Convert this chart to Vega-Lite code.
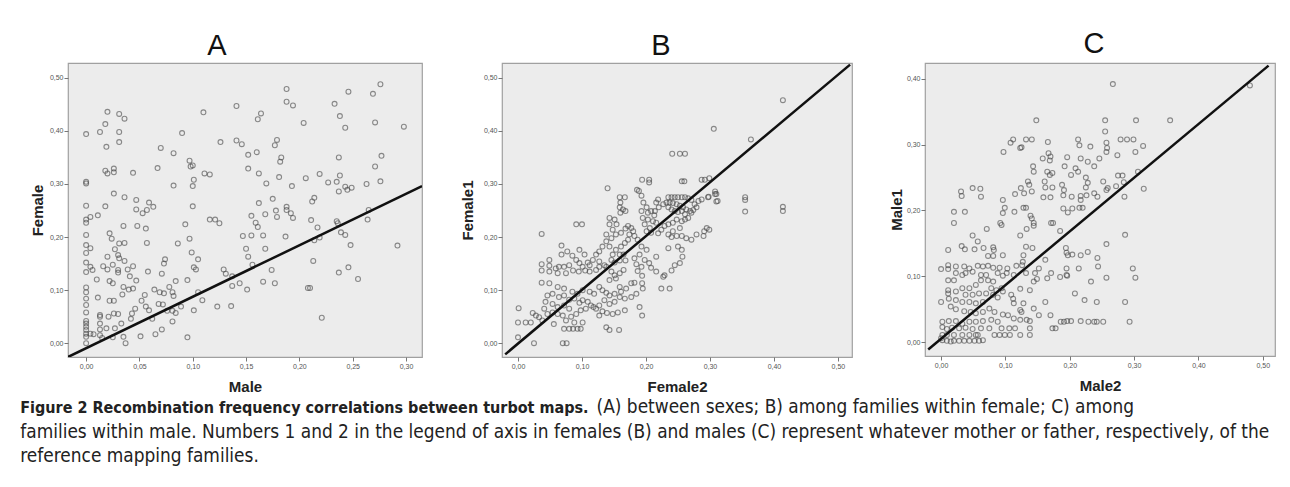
{
"$schema": "https://vega.github.io/schema/vega-lite/v6.json",
"background": "white",
"padding": {"left": 20, "top": 29, "right": 5, "bottom": 0},
"spacing": 36,
"title": {
"text": "Figure 2 Recombination frequency correlations between turbot maps.",
"subtitle": ["\u200b\u2003\u2003\u2003\u2003\u2003\u2003\u2003\u2003\u2003\u2003\u2003\u2003\u2003\u2003\u2003\u2003\u2003\u2003\u2003\u2003\u2003\u2003\u2003\u2003\u2003\u2003\u2003\u2003\u2003\u2003\u2003\u2003\u2003\u2002\u2009\u2009(A) between sexes; B) among families within female; C) among", "families within male. Numbers 1 and 2 in the legend of axis in females (B) and males (C) represent whatever mother or father, respectively, of the", "reference mapping families."],
"orient": "bottom", "anchor": "start", "frame": "bounds", "dx": -10, "offset": 5,
"font": "DejaVu Sans Condensed", "fontSize": 16, "fontWeight": "bold", "color": "#222",
"subtitleFont": "DejaVu Sans Condensed", "subtitleFontSize": 18.9, "subtitleFontWeight": "normal", "subtitleColor": "#222",
"subtitlePadding": -17.5, "subtitleLineHeight": 24.7
},
"datasets": {
"a": [
{"x":0.020,"y":0.436},{"x":0.031,"y":0.432},{"x":0.036,"y":0.423},{"x":0.018,"y":0.413},{"x":0.013,"y":0.398},{"x":0.000,"y":0.394},{"x":0.031,"y":0.398},{"x":0.019,"y":0.370},{"x":0.031,"y":0.379},{"x":0.110,"y":0.435},{"x":0.141,"y":0.447},{"x":0.090,"y":0.396},{"x":0.126,"y":0.379},{"x":0.141,"y":0.382},{"x":0.146,"y":0.375},{"x":0.070,"y":0.368},{"x":0.082,"y":0.358},{"x":0.097,"y":0.344},{"x":0.100,"y":0.335},{"x":0.098,"y":0.333},{"x":0.067,"y":0.330},{"x":0.018,"y":0.325},{"x":0.020,"y":0.320},{"x":0.026,"y":0.329},{"x":0.026,"y":0.322},{"x":0.044,"y":0.321},{"x":0.111,"y":0.320},{"x":0.116,"y":0.318},{"x":0.101,"y":0.308},{"x":0.000,"y":0.304},{"x":0.000,"y":0.301},{"x":0.082,"y":0.297},{"x":0.100,"y":0.296},{"x":0.026,"y":0.282},{"x":0.036,"y":0.275},{"x":0.047,"y":0.270},{"x":0.059,"y":0.265},{"x":0.063,"y":0.257},{"x":0.057,"y":0.251},{"x":0.053,"y":0.245},{"x":0.047,"y":0.252},{"x":0.018,"y":0.258},{"x":0.000,"y":0.259},{"x":0.011,"y":0.241},{"x":0.004,"y":0.238},{"x":0.000,"y":0.233},{"x":0.000,"y":0.227},{"x":0.100,"y":0.258},{"x":0.116,"y":0.233},{"x":0.121,"y":0.233},{"x":0.125,"y":0.226},{"x":0.035,"y":0.221},{"x":0.048,"y":0.221},{"x":0.056,"y":0.216},{"x":0.093,"y":0.224},{"x":0.022,"y":0.207},{"x":0.024,"y":0.197},{"x":0.000,"y":0.204},{"x":0.031,"y":0.188},{"x":0.036,"y":0.189},{"x":0.057,"y":0.189},{"x":0.086,"y":0.188},{"x":0.097,"y":0.197},{"x":0.147,"y":0.202},{"x":0.000,"y":0.185},{"x":0.004,"y":0.179},{"x":0.000,"y":0.170},{"x":0.027,"y":0.177},{"x":0.030,"y":0.166},{"x":0.031,"y":0.160},{"x":0.036,"y":0.155},{"x":0.020,"y":0.163},{"x":0.074,"y":0.158},{"x":0.073,"y":0.150},{"x":0.099,"y":0.171},{"x":0.105,"y":0.158},{"x":0.000,"y":0.152},{"x":0.004,"y":0.144},{"x":0.006,"y":0.138},{"x":0.000,"y":0.134},{"x":0.016,"y":0.145},{"x":0.020,"y":0.139},{"x":0.025,"y":0.148},{"x":0.030,"y":0.138},{"x":0.030,"y":0.133},{"x":0.039,"y":0.139},{"x":0.044,"y":0.145},{"x":0.041,"y":0.126},{"x":0.058,"y":0.135},{"x":0.101,"y":0.143},{"x":0.103,"y":0.139},{"x":0.129,"y":0.139},{"x":0.131,"y":0.131},{"x":0.137,"y":0.126},{"x":0.071,"y":0.131},{"x":0.010,"y":0.120},{"x":0.022,"y":0.117},{"x":0.025,"y":0.113},{"x":0.047,"y":0.118},{"x":0.084,"y":0.117},{"x":0.095,"y":0.119},{"x":0.137,"y":0.108},{"x":0.144,"y":0.113},{"x":0.000,"y":0.105},{"x":0.000,"y":0.096},{"x":0.011,"y":0.086},{"x":0.022,"y":0.080},{"x":0.026,"y":0.080},{"x":0.034,"y":0.092},{"x":0.035,"y":0.106},{"x":0.040,"y":0.101},{"x":0.044,"y":0.103},{"x":0.055,"y":0.091},{"x":0.064,"y":0.101},{"x":0.069,"y":0.096},{"x":0.073,"y":0.094},{"x":0.078,"y":0.106},{"x":0.081,"y":0.096},{"x":0.082,"y":0.089},{"x":0.105,"y":0.096},{"x":0.109,"y":0.081},{"x":0.000,"y":0.084},{"x":0.000,"y":0.072},{"x":0.000,"y":0.058},{"x":0.000,"y":0.042},{"x":0.000,"y":0.037},{"x":0.000,"y":0.031},{"x":0.000,"y":0.025},{"x":0.000,"y":0.018},{"x":0.000,"y":0.012},{"x":0.000,"y":0.000},{"x":0.004,"y":0.018},{"x":0.007,"y":0.017},{"x":0.013,"y":0.053},{"x":0.013,"y":0.050},{"x":0.021,"y":0.050},{"x":0.026,"y":0.056},{"x":0.030,"y":0.055},{"x":0.013,"y":0.037},{"x":0.013,"y":0.026},{"x":0.019,"y":0.028},{"x":0.027,"y":0.028},{"x":0.025,"y":0.011},{"x":0.013,"y":0.015},{"x":0.015,"y":0.010},{"x":0.035,"y":0.012},{"x":0.037,"y":0.000},{"x":0.042,"y":0.046},{"x":0.046,"y":0.065},{"x":0.052,"y":0.080},{"x":0.056,"y":0.069},{"x":0.059,"y":0.062},{"x":0.062,"y":0.046},{"x":0.068,"y":0.074},{"x":0.072,"y":0.073},{"x":0.076,"y":0.061},{"x":0.081,"y":0.061},{"x":0.084,"y":0.057},{"x":0.081,"y":0.041},{"x":0.089,"y":0.069},{"x":0.101,"y":0.062},{"x":0.123,"y":0.069},{"x":0.136,"y":0.070},{"x":0.051,"y":0.013},{"x":0.065,"y":0.017},{"x":0.071,"y":0.026},{"x":0.095,"y":0.011},{"x":0.043,"y":0.056},{"x":0.033,"y":0.037},
{"x":0.188,"y":0.479},{"x":0.246,"y":0.474},{"x":0.276,"y":0.488},{"x":0.269,"y":0.470},{"x":0.188,"y":0.455},{"x":0.194,"y":0.448},{"x":0.233,"y":0.451},{"x":0.164,"y":0.433},{"x":0.161,"y":0.422},{"x":0.238,"y":0.428},{"x":0.204,"y":0.415},{"x":0.243,"y":0.406},{"x":0.271,"y":0.416},{"x":0.298,"y":0.408},{"x":0.179,"y":0.383},{"x":0.177,"y":0.373},{"x":0.160,"y":0.360},{"x":0.152,"y":0.355},{"x":0.183,"y":0.350},{"x":0.182,"y":0.342},{"x":0.237,"y":0.350},{"x":0.277,"y":0.353},{"x":0.271,"y":0.333},{"x":0.152,"y":0.329},{"x":0.162,"y":0.320},{"x":0.181,"y":0.313},{"x":0.169,"y":0.301},{"x":0.193,"y":0.296},{"x":0.206,"y":0.311},{"x":0.219,"y":0.319},{"x":0.227,"y":0.303},{"x":0.235,"y":0.304},{"x":0.238,"y":0.316},{"x":0.237,"y":0.286},{"x":0.243,"y":0.295},{"x":0.249,"y":0.293},{"x":0.245,"y":0.289},{"x":0.263,"y":0.300},{"x":0.276,"y":0.305},{"x":0.175,"y":0.272},{"x":0.162,"y":0.264},{"x":0.155,"y":0.240},{"x":0.168,"y":0.243},{"x":0.178,"y":0.250},{"x":0.179,"y":0.238},{"x":0.188,"y":0.257},{"x":0.188,"y":0.251},{"x":0.192,"y":0.245},{"x":0.194,"y":0.236},{"x":0.212,"y":0.267},{"x":0.214,"y":0.274},{"x":0.211,"y":0.232},{"x":0.217,"y":0.218},{"x":0.159,"y":0.227},{"x":0.161,"y":0.219},{"x":0.166,"y":0.203},{"x":0.155,"y":0.203},{"x":0.187,"y":0.201},{"x":0.214,"y":0.194},{"x":0.219,"y":0.199},{"x":0.235,"y":0.230},{"x":0.236,"y":0.226},{"x":0.239,"y":0.209},{"x":0.243,"y":0.204},{"x":0.248,"y":0.185},{"x":0.265,"y":0.251},{"x":0.264,"y":0.233},{"x":0.292,"y":0.184},{"x":0.150,"y":0.178},{"x":0.152,"y":0.163},{"x":0.168,"y":0.178},{"x":0.156,"y":0.148},{"x":0.174,"y":0.138},{"x":0.166,"y":0.116},{"x":0.177,"y":0.113},{"x":0.151,"y":0.101},{"x":0.213,"y":0.155},{"x":0.208,"y":0.104},{"x":0.210,"y":0.104},{"x":0.237,"y":0.133},{"x":0.246,"y":0.143},{"x":0.255,"y":0.121},{"x":0.221,"y":0.048}
],
"aLine": [{"x":-0.017,"y":-0.026},{"x":0.315,"y":0.296}],
"b": [
{"x":0.241,"y":0.357},{"x":0.253,"y":0.357},{"x":0.261,"y":0.357},{"x":0.194,"y":0.308},{"x":0.205,"y":0.308},{"x":0.205,"y":0.303},{"x":0.140,"y":0.292},{"x":0.186,"y":0.289},{"x":0.189,"y":0.287},{"x":0.256,"y":0.305},{"x":0.260,"y":0.305},{"x":0.287,"y":0.308},{"x":0.292,"y":0.308},{"x":0.299,"y":0.311},{"x":0.308,"y":0.286},{"x":0.310,"y":0.281},{"x":0.312,"y":0.268},{"x":0.297,"y":0.275},{"x":0.235,"y":0.275},{"x":0.240,"y":0.275},{"x":0.245,"y":0.275},{"x":0.250,"y":0.275},{"x":0.256,"y":0.275},{"x":0.261,"y":0.275},{"x":0.266,"y":0.273},{"x":0.271,"y":0.270},{"x":0.232,"y":0.265},{"x":0.237,"y":0.265},{"x":0.242,"y":0.264},{"x":0.248,"y":0.262},{"x":0.253,"y":0.259},{"x":0.258,"y":0.256},{"x":0.263,"y":0.252},{"x":0.269,"y":0.249},{"x":0.274,"y":0.251},{"x":0.279,"y":0.256},{"x":0.235,"y":0.256},{"x":0.240,"y":0.252},{"x":0.245,"y":0.249},{"x":0.250,"y":0.247},{"x":0.256,"y":0.249},{"x":0.261,"y":0.243},{"x":0.271,"y":0.246},{"x":0.276,"y":0.262},{"x":0.282,"y":0.268},{"x":0.287,"y":0.271},{"x":0.219,"y":0.271},{"x":0.216,"y":0.265},{"x":0.227,"y":0.262},{"x":0.220,"y":0.256},{"x":0.214,"y":0.249},{"x":0.159,"y":0.275},{"x":0.167,"y":0.275},{"x":0.160,"y":0.265},{"x":0.159,"y":0.256},{"x":0.164,"y":0.252},{"x":0.168,"y":0.249},{"x":0.160,"y":0.246},{"x":0.193,"y":0.278},{"x":0.196,"y":0.265},{"x":0.201,"y":0.256},{"x":0.193,"y":0.249},{"x":0.203,"y":0.246},{"x":0.208,"y":0.249},{"x":0.213,"y":0.241},{"x":0.195,"y":0.236},{"x":0.203,"y":0.233},{"x":0.211,"y":0.230},{"x":0.216,"y":0.227},{"x":0.198,"y":0.224},{"x":0.206,"y":0.217},{"x":0.201,"y":0.211},{"x":0.208,"y":0.208},{"x":0.219,"y":0.207},{"x":0.224,"y":0.214},{"x":0.229,"y":0.221},{"x":0.235,"y":0.224},{"x":0.242,"y":0.227},{"x":0.248,"y":0.233},{"x":0.256,"y":0.230},{"x":0.261,"y":0.233},{"x":0.266,"y":0.236},{"x":0.253,"y":0.217},{"x":0.242,"y":0.211},{"x":0.235,"y":0.205},{"x":0.240,"y":0.200},{"x":0.248,"y":0.202},{"x":0.256,"y":0.202},{"x":0.263,"y":0.198},{"x":0.271,"y":0.195},{"x":0.279,"y":0.205},{"x":0.290,"y":0.202},{"x":0.291,"y":0.211},{"x":0.295,"y":0.217},{"x":0.299,"y":0.214},{"x":0.143,"y":0.236},{"x":0.151,"y":0.233},{"x":0.154,"y":0.224},{"x":0.143,"y":0.224},{"x":0.148,"y":0.214},{"x":0.153,"y":0.205},{"x":0.146,"y":0.198},{"x":0.138,"y":0.205},{"x":0.161,"y":0.208},{"x":0.168,"y":0.216},{"x":0.172,"y":0.221},{"x":0.177,"y":0.217},{"x":0.180,"y":0.211},{"x":0.174,"y":0.205},{"x":0.182,"y":0.202},{"x":0.187,"y":0.195},{"x":0.193,"y":0.182},{"x":0.201,"y":0.176},{"x":0.190,"y":0.167},{"x":0.182,"y":0.160},{"x":0.185,"y":0.149},{"x":0.193,"y":0.144},{"x":0.194,"y":0.127},{"x":0.187,"y":0.136},{"x":0.172,"y":0.195},{"x":0.167,"y":0.189},{"x":0.161,"y":0.182},{"x":0.153,"y":0.176},{"x":0.148,"y":0.167},{"x":0.143,"y":0.182},{"x":0.138,"y":0.192},{"x":0.132,"y":0.182},{"x":0.127,"y":0.173},{"x":0.122,"y":0.167},{"x":0.117,"y":0.157},{"x":0.112,"y":0.147},{"x":0.127,"y":0.154},{"x":0.135,"y":0.147},{"x":0.146,"y":0.157},{"x":0.151,"y":0.152},{"x":0.159,"y":0.156},{"x":0.168,"y":0.156},{"x":0.159,"y":0.167},{"x":0.165,"y":0.167},{"x":0.091,"y":0.224},{"x":0.100,"y":0.224},{"x":0.037,"y":0.206},{"x":0.068,"y":0.184},{"x":0.068,"y":0.167},{"x":0.077,"y":0.173},{"x":0.085,"y":0.165},{"x":0.096,"y":0.176},{"x":0.104,"y":0.167},{"x":0.091,"y":0.157},{"x":0.096,"y":0.151},{"x":0.101,"y":0.144},{"x":0.109,"y":0.152},{"x":0.080,"y":0.147},{"x":0.072,"y":0.144},{"x":0.064,"y":0.144},{"x":0.059,"y":0.141},{"x":0.049,"y":0.146},{"x":0.037,"y":0.149},{"x":0.037,"y":0.137},{"x":0.049,"y":0.157},{"x":0.049,"y":0.135},{"x":0.062,"y":0.132},{"x":0.075,"y":0.132},{"x":0.086,"y":0.137},{"x":0.095,"y":0.135},{"x":0.105,"y":0.137},{"x":0.112,"y":0.135},{"x":0.122,"y":0.138},{"x":0.127,"y":0.144},{"x":0.138,"y":0.144},{"x":0.146,"y":0.135},{"x":0.151,"y":0.128},{"x":0.159,"y":0.132},{"x":0.165,"y":0.138},{"x":0.153,"y":0.122},{"x":0.143,"y":0.119},{"x":0.037,"y":0.114},{"x":0.049,"y":0.113},{"x":0.062,"y":0.106},{"x":0.072,"y":0.103},{"x":0.085,"y":0.097},{"x":0.093,"y":0.093},{"x":0.101,"y":0.100},{"x":0.112,"y":0.097},{"x":0.119,"y":0.093},{"x":0.127,"y":0.106},{"x":0.132,"y":0.100},{"x":0.138,"y":0.095},{"x":0.143,"y":0.090},{"x":0.151,"y":0.093},{"x":0.159,"y":0.106},{"x":0.161,"y":0.097},{"x":0.169,"y":0.103},{"x":0.177,"y":0.113},{"x":0.182,"y":0.114},{"x":0.194,"y":0.113},{"x":0.195,"y":0.103},{"x":0.185,"y":0.093},{"x":0.177,"y":0.087},{"x":0.167,"y":0.084},{"x":0.159,"y":0.087},{"x":0.151,"y":0.078},{"x":0.143,"y":0.074},{"x":0.135,"y":0.081},{"x":0.127,"y":0.071},{"x":0.118,"y":0.068},{"x":0.109,"y":0.078},{"x":0.101,"y":0.081},{"x":0.096,"y":0.076},{"x":0.088,"y":0.084},{"x":0.080,"y":0.082},{"x":0.072,"y":0.090},{"x":0.064,"y":0.087},{"x":0.054,"y":0.093},{"x":0.046,"y":0.090},{"x":0.043,"y":0.078},{"x":0.054,"y":0.074},{"x":0.062,"y":0.068},{"x":0.072,"y":0.071},{"x":0.080,"y":0.065},{"x":0.091,"y":0.055},{"x":0.098,"y":0.062},{"x":0.106,"y":0.065},{"x":0.114,"y":0.071},{"x":0.122,"y":0.065},{"x":0.132,"y":0.060},{"x":0.139,"y":0.057},{"x":0.148,"y":0.055},{"x":0.156,"y":0.058},{"x":0.167,"y":0.062},{"x":0.190,"y":0.068},{"x":0.194,"y":0.052},{"x":0.224,"y":0.103},{"x":0.237,"y":0.103},{"x":0.229,"y":0.128},{"x":0.240,"y":0.137},{"x":0.245,"y":0.147},{"x":0.253,"y":0.151},{"x":0.257,"y":0.163},{"x":0.256,"y":0.176},{"x":0.250,"y":0.182},{"x":0.235,"y":0.179},{"x":0.227,"y":0.125},{"x":0.216,"y":0.135},{"x":0.208,"y":0.142},{"x":0.205,"y":0.151},{"x":0.198,"y":0.157},{"x":0.216,"y":0.163},{"x":0.001,"y":0.066},{"x":0.023,"y":0.057},{"x":0.028,"y":0.052},{"x":0.033,"y":0.049},{"x":0.041,"y":0.065},{"x":0.046,"y":0.055},{"x":0.054,"y":0.058},{"x":0.062,"y":0.055},{"x":0.070,"y":0.052},{"x":0.075,"y":0.043},{"x":0.083,"y":0.050},{"x":0.088,"y":0.039},{"x":0.101,"y":0.039},{"x":0.072,"y":0.027},{"x":0.080,"y":0.027},{"x":0.086,"y":0.027},{"x":0.093,"y":0.027},{"x":0.098,"y":0.027},{"x":0.127,"y":0.052},{"x":0.138,"y":0.030},{"x":0.143,"y":0.025},{"x":0.158,"y":0.025},{"x":0.056,"y":0.036},{"x":0.038,"y":0.043},{"x":0.000,"y":0.039},{"x":0.012,"y":0.039},{"x":0.020,"y":0.039},{"x":0.000,"y":0.011},{"x":0.025,"y":0.000},{"x":0.070,"y":0.000},{"x":0.076,"y":0.000},
{"x":0.414,"y":0.458},{"x":0.306,"y":0.404},{"x":0.364,"y":0.384},{"x":0.355,"y":0.275},{"x":0.355,"y":0.270},{"x":0.355,"y":0.248},{"x":0.414,"y":0.257},{"x":0.414,"y":0.249},{"x":0.298,"y":0.276},{"x":0.308,"y":0.281},{"x":0.310,"y":0.267}
],
"bLine": [{"x":-0.020,"y":-0.021},{"x":0.519,"y":0.525}],
"c": [
{"x":0.108,"y":0.303},{"x":0.112,"y":0.308},{"x":0.123,"y":0.295},{"x":0.125,"y":0.296},{"x":0.132,"y":0.308},{"x":0.141,"y":0.308},{"x":0.166,"y":0.304},{"x":0.097,"y":0.289},{"x":0.167,"y":0.287},{"x":0.170,"y":0.282},{"x":0.169,"y":0.276},{"x":0.158,"y":0.279},{"x":0.213,"y":0.308},{"x":0.215,"y":0.299},{"x":0.232,"y":0.297},{"x":0.257,"y":0.303},{"x":0.258,"y":0.295},{"x":0.257,"y":0.289},{"x":0.279,"y":0.308},{"x":0.289,"y":0.308},{"x":0.299,"y":0.308},{"x":0.274,"y":0.284},{"x":0.302,"y":0.289},{"x":0.217,"y":0.279},{"x":0.228,"y":0.274},{"x":0.246,"y":0.279},{"x":0.238,"y":0.267},{"x":0.196,"y":0.281},{"x":0.192,"y":0.267},{"x":0.209,"y":0.264},{"x":0.213,"y":0.259},{"x":0.202,"y":0.254},{"x":0.225,"y":0.250},{"x":0.228,"y":0.242},{"x":0.225,"y":0.235},{"x":0.252,"y":0.244},{"x":0.259,"y":0.234},{"x":0.257,"y":0.231},{"x":0.272,"y":0.237},{"x":0.284,"y":0.243},{"x":0.275,"y":0.253},{"x":0.282,"y":0.253},{"x":0.306,"y":0.259},{"x":0.315,"y":0.233},{"x":0.143,"y":0.267},{"x":0.144,"y":0.259},{"x":0.165,"y":0.259},{"x":0.169,"y":0.254},{"x":0.173,"y":0.257},{"x":0.161,"y":0.244},{"x":0.162,"y":0.235},{"x":0.173,"y":0.235},{"x":0.188,"y":0.239},{"x":0.191,"y":0.231},{"x":0.190,"y":0.223},{"x":0.203,"y":0.221},{"x":0.217,"y":0.222},{"x":0.226,"y":0.223},{"x":0.238,"y":0.226},{"x":0.243,"y":0.221},{"x":0.217,"y":0.216},{"x":0.220,"y":0.204},{"x":0.215,"y":0.204},{"x":0.204,"y":0.203},{"x":0.197,"y":0.197},{"x":0.190,"y":0.203},{"x":0.285,"y":0.221},{"x":0.135,"y":0.244},{"x":0.137,"y":0.239},{"x":0.124,"y":0.234},{"x":0.141,"y":0.229},{"x":0.129,"y":0.226},{"x":0.115,"y":0.225},{"x":0.096,"y":0.216},{"x":0.159,"y":0.220},{"x":0.170,"y":0.220},{"x":0.031,"y":0.229},{"x":0.032,"y":0.222},{"x":0.049,"y":0.234},{"x":0.061,"y":0.233},{"x":0.062,"y":0.221},{"x":0.020,"y":0.198},{"x":0.037,"y":0.198},{"x":0.020,"y":0.181},{"x":0.099,"y":0.204},{"x":0.096,"y":0.196},{"x":0.092,"y":0.181},{"x":0.094,"y":0.178},{"x":0.114,"y":0.198},{"x":0.128,"y":0.204},{"x":0.132,"y":0.204},{"x":0.139,"y":0.192},{"x":0.141,"y":0.188},{"x":0.144,"y":0.181},{"x":0.144,"y":0.177},{"x":0.133,"y":0.172},{"x":0.123,"y":0.162},{"x":0.171,"y":0.181},{"x":0.174,"y":0.181},{"x":0.185,"y":0.169},{"x":0.071,"y":0.172},{"x":0.049,"y":0.162},{"x":0.057,"y":0.153},{"x":0.257,"y":0.149},{"x":0.286,"y":0.163},{"x":0.032,"y":0.146},{"x":0.011,"y":0.140},{"x":0.037,"y":0.141},{"x":0.052,"y":0.141},{"x":0.066,"y":0.143},{"x":0.081,"y":0.144},{"x":0.082,"y":0.140},{"x":0.073,"y":0.131},{"x":0.081,"y":0.131},{"x":0.132,"y":0.145},{"x":0.142,"y":0.143},{"x":0.128,"y":0.132},{"x":0.096,"y":0.132},{"x":0.117,"y":0.116},{"x":0.127,"y":0.122},{"x":0.126,"y":0.117},{"x":0.103,"y":0.112},{"x":0.091,"y":0.113},{"x":0.081,"y":0.113},{"x":0.073,"y":0.116},{"x":0.057,"y":0.116},{"x":0.065,"y":0.115},{"x":0.044,"y":0.112},{"x":0.036,"y":0.115},{"x":0.023,"y":0.115},{"x":0.011,"y":0.117},{"x":0.011,"y":0.111},{"x":0.000,"y":0.111},{"x":0.023,"y":0.105},{"x":0.033,"y":0.102},{"x":0.038,"y":0.105},{"x":0.049,"y":0.107},{"x":0.062,"y":0.102},{"x":0.070,"y":0.102},{"x":0.088,"y":0.105},{"x":0.102,"y":0.105},{"x":0.096,"y":0.101},{"x":0.113,"y":0.102},{"x":0.132,"y":0.105},{"x":0.146,"y":0.105},{"x":0.152,"y":0.112},{"x":0.149,"y":0.096},{"x":0.144,"y":0.092},{"x":0.138,"y":0.079},{"x":0.123,"y":0.081},{"x":0.109,"y":0.072},{"x":0.112,"y":0.066},{"x":0.113,"y":0.059},{"x":0.128,"y":0.059},{"x":0.123,"y":0.049},{"x":0.125,"y":0.046},{"x":0.144,"y":0.051},{"x":0.152,"y":0.041},{"x":0.170,"y":0.041},{"x":0.165,"y":0.097},{"x":0.171,"y":0.105},{"x":0.194,"y":0.143},{"x":0.195,"y":0.136},{"x":0.197,"y":0.132},{"x":0.204,"y":0.133},{"x":0.217,"y":0.132},{"x":0.228,"y":0.137},{"x":0.243,"y":0.128},{"x":0.244,"y":0.115},{"x":0.214,"y":0.112},{"x":0.195,"y":0.112},{"x":0.195,"y":0.102},{"x":0.196,"y":0.101},{"x":0.162,"y":0.125},{"x":0.162,"y":0.061},{"x":0.185,"y":0.099},{"x":0.208,"y":0.074},{"x":0.223,"y":0.064},{"x":0.242,"y":0.061},{"x":0.233,"y":0.092},{"x":0.257,"y":0.098},{"x":0.286,"y":0.061},{"x":0.298,"y":0.112},{"x":0.302,"y":0.098},{"x":0.293,"y":0.031},{"x":0.011,"y":0.094},{"x":0.020,"y":0.094},{"x":0.011,"y":0.079},{"x":0.011,"y":0.074},{"x":0.023,"y":0.077},{"x":0.033,"y":0.082},{"x":0.044,"y":0.082},{"x":0.054,"y":0.087},{"x":0.062,"y":0.094},{"x":0.073,"y":0.094},{"x":0.081,"y":0.092},{"x":0.078,"y":0.082},{"x":0.086,"y":0.079},{"x":0.094,"y":0.082},{"x":0.096,"y":0.077},{"x":0.038,"y":0.072},{"x":0.049,"y":0.072},{"x":0.059,"y":0.074},{"x":0.070,"y":0.074},{"x":0.081,"y":0.072},{"x":0.088,"y":0.068},{"x":0.012,"y":0.066},{"x":0.023,"y":0.064},{"x":0.033,"y":0.061},{"x":0.044,"y":0.061},{"x":0.054,"y":0.059},{"x":0.065,"y":0.061},{"x":0.000,"y":0.061},{"x":0.015,"y":0.054},{"x":0.023,"y":0.050},{"x":0.036,"y":0.047},{"x":0.046,"y":0.046},{"x":0.054,"y":0.044},{"x":0.065,"y":0.046},{"x":0.075,"y":0.051},{"x":0.083,"y":0.046},{"x":0.096,"y":0.042},{"x":0.104,"y":0.041},{"x":0.113,"y":0.036},{"x":0.123,"y":0.034},{"x":0.133,"y":0.034},{"x":0.138,"y":0.032},{"x":0.002,"y":0.031},{"x":0.012,"y":0.032},{"x":0.023,"y":0.032},{"x":0.033,"y":0.028},{"x":0.044,"y":0.031},{"x":0.054,"y":0.031},{"x":0.065,"y":0.032},{"x":0.078,"y":0.034},{"x":0.088,"y":0.031},{"x":0.002,"y":0.023},{"x":0.009,"y":0.020},{"x":0.017,"y":0.022},{"x":0.028,"y":0.021},{"x":0.038,"y":0.022},{"x":0.049,"y":0.020},{"x":0.062,"y":0.021},{"x":0.075,"y":0.021},{"x":0.094,"y":0.021},{"x":0.106,"y":0.021},{"x":0.115,"y":0.021},{"x":0.138,"y":0.021},{"x":0.173,"y":0.021},{"x":0.178,"y":0.021},{"x":0.002,"y":0.011},{"x":0.009,"y":0.011},{"x":0.020,"y":0.011},{"x":0.033,"y":0.011},{"x":0.044,"y":0.011},{"x":0.054,"y":0.011},{"x":0.083,"y":0.011},{"x":0.091,"y":0.011},{"x":0.099,"y":0.011},{"x":0.107,"y":0.011},{"x":0.123,"y":0.011},{"x":0.138,"y":0.011},{"x":0.002,"y":0.003},{"x":0.009,"y":0.002},{"x":0.015,"y":0.001},{"x":0.020,"y":0.002},{"x":0.028,"y":0.002},{"x":0.036,"y":0.002},{"x":0.044,"y":0.002},{"x":0.052,"y":0.002},{"x":0.059,"y":0.002},{"x":0.065,"y":0.003},{"x":0.000,"y":0.006},{"x":0.057,"y":0.011},{"x":0.186,"y":0.031},{"x":0.191,"y":0.031},{"x":0.196,"y":0.032},{"x":0.202,"y":0.032},{"x":0.217,"y":0.032},{"x":0.229,"y":0.031},{"x":0.238,"y":0.031},{"x":0.242,"y":0.031},{"x":0.252,"y":0.031},
{"x":0.267,"y":0.392},{"x":0.480,"y":0.390},{"x":0.148,"y":0.337},{"x":0.255,"y":0.337},{"x":0.303,"y":0.337},{"x":0.356,"y":0.337},{"x":0.255,"y":0.320},{"x":0.314,"y":0.298}
],
"cLine": [{"x":-0.020,"y":-0.011},{"x":0.509,"y":0.420}]
},
"hconcat": [
{
"width": 354, "height": 294,
"title": {"text": "A", "frame": "group", "dx": -28, "offset": 2, "font": "Liberation Sans", "fontSize": 29, "fontWeight": "normal", "color": "#111"},
"encoding": {
"x": {"field": "x", "type": "quantitative", "scale": {"domain": [-0.017, 0.315], "nice": false, "zero": false}, "axis": {"title": "Male", "values": [0, 0.05, 0.1, 0.15, 0.2, 0.25, 0.3]}},
"y": {"field": "y", "type": "quantitative", "scale": {"domain": [-0.026, 0.528], "nice": false, "zero": false}, "axis": {"title": "Female", "values": [0, 0.1, 0.2, 0.3, 0.4, 0.5], "titlePadding": 3.5}}
},
"layer": [
{"data": {"name": "a"}, "mark": {"type": "point", "shape": "circle", "filled": false, "size": 24, "stroke": "#444", "strokeWidth": 1.1, "strokeOpacity": 0.85, "clip": true}},
{"data": {"name": "aLine"}, "mark": {"type": "line", "color": "#111", "strokeWidth": 2.5, "clip": true}}
]
},
{
"width": 350, "height": 294,
"title": {"text": "B", "frame": "group", "dx": -16, "offset": 2, "font": "Liberation Sans", "fontSize": 29, "fontWeight": "normal", "color": "#111"},
"encoding": {
"x": {"field": "x", "type": "quantitative", "scale": {"domain": [-0.025, 0.522], "nice": false, "zero": false}, "axis": {"title": "Female2", "values": [0, 0.1, 0.2, 0.3, 0.4, 0.5]}},
"y": {"field": "y", "type": "quantitative", "scale": {"domain": [-0.026, 0.528], "nice": false, "zero": false}, "axis": {"title": "Female1", "values": [0, 0.1, 0.2, 0.3, 0.4, 0.5], "titlePadding": 8}}
},
"layer": [
{"data": {"name": "b"}, "mark": {"type": "point", "shape": "circle", "filled": false, "size": 24, "stroke": "#444", "strokeWidth": 1.1, "strokeOpacity": 0.85, "clip": true}},
{"data": {"name": "bLine"}, "mark": {"type": "line", "color": "#111", "strokeWidth": 2.5, "clip": true}}
]
},
{
"width": 350, "height": 293,
"title": {"text": "C", "frame": "group", "dx": -6, "offset": 4, "font": "Liberation Sans", "fontSize": 29, "fontWeight": "normal", "color": "#111"},
"encoding": {
"x": {"field": "x", "type": "quantitative", "scale": {"domain": [-0.025, 0.519], "nice": false, "zero": false}, "axis": {"title": "Male2", "values": [0, 0.1, 0.2, 0.3, 0.4, 0.5]}},
"y": {"field": "y", "type": "quantitative", "scale": {"domain": [-0.021, 0.424], "nice": false, "zero": false}, "axis": {"title": "Male1", "values": [0, 0.1, 0.2, 0.3, 0.4], "titlePadding": 1.5}}
},
"layer": [
{"data": {"name": "c"}, "mark": {"type": "point", "shape": "circle", "filled": false, "size": 24, "stroke": "#444", "strokeWidth": 1.1, "strokeOpacity": 0.85, "clip": true}},
{"data": {"name": "cLine"}, "mark": {"type": "line", "color": "#111", "strokeWidth": 2.5, "clip": true}}
]
}
],
"config": {
"view": {"fill": "#ececec", "stroke": "#a0a0a0", "strokeWidth": 1.2},
"axis": {"domain": false, "grid": false, "ticks": true, "tickColor": "#777", "tickSize": 4, "labelPadding": 1, "labelFont": "Liberation Sans", "labelFontSize": 7, "labelColor": "#555", "labelExpr": "replace(format(datum.value, '.2f'), '.', ',')", "titleFont": "Liberation Sans", "titleFontSize": 15, "titleFontWeight": "bold", "titleColor": "#222"},
"axisX": {"titlePadding": 10}
}
}
